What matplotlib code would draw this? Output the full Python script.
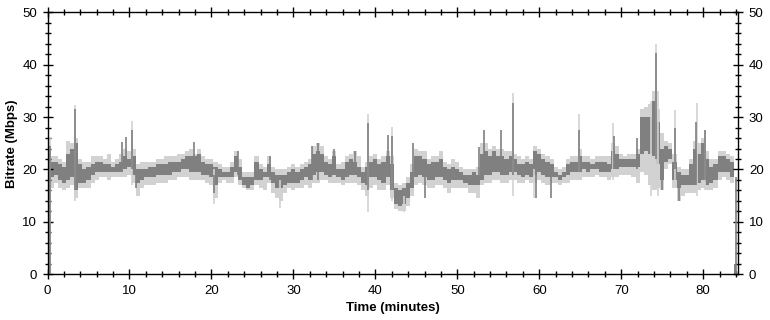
import numpy as np
import matplotlib
matplotlib.use('Agg')
import matplotlib.pyplot as plt
from matplotlib.ticker import MultipleLocator

# === Data (bitrate trace, Mbps vs minutes) ===
# Envelope per 0.5-minute bin: dark band (core) and light band (extremes)
BIN = 0.5
dark_lo = [0, 18.5, 19, 18, 17.5, 18, 18.5, 16, 17.5, 17.5, 18, 19, 19.5, 19.5, 19.5, 19.5,
           19.5, 19.5, 19.5, 20, 20.5, 19, 17.5, 18, 18.5, 18.5, 18.5, 19, 19, 19, 19, 19.5,
           19.5, 20, 20, 19.5, 19.5, 19.5, 19, 19, 18.5, 17, 18.5, 18.5, 18.5, 18.5, 19.5, 18,
           17, 16.5, 17, 18, 18, 18.5, 18.5, 17.5, 16.5, 16.5, 17, 17.5, 17.5, 17.5, 18, 18.5,
           18, 19, 19.5, 19.5, 19, 18.5, 19, 18.5, 18, 18.5, 19, 19, 18.5, 17.5, 17, 18.5,
           18.5, 18, 17.5, 18.5, 16, 13.5, 13, 13.5, 14.5, 16.5, 18.5, 19, 18.5, 18, 18, 18.5,
           18.5, 18, 17.5, 18, 18, 18, 17.5, 17, 17, 17, 18, 19, 19, 19.5, 19.5, 19,
           19, 19.5, 19.5, 19, 18.5, 19, 18.5, 19, 19.5, 19, 18.5, 18.5, 18.5, 18, 18.5, 19,
           19.5, 19.5, 19.5, 20, 19.5, 20, 20, 19.5, 19.5, 19.5, 20, 20, 20.5, 20.5, 20.5, 20.5,
           20.5, 23, 23.5, 23, 22.5, 21, 18, 21.5, 22, 18, 16.5, 17, 17, 17, 17, 17.5,
           18, 17, 17.5, 18, 19.5, 19.5, 19.5, 18.5, 0]
dark_hi = [2, 21.5, 21.5, 21, 20.5, 23, 24, 25, 21, 20, 20.5, 21, 21.5, 21.5, 21, 21,
           20.5, 21, 21.5, 22.5, 22, 22.5, 20, 20, 20, 20.5, 20.5, 21, 21, 21, 21.5, 21.5,
           21.5, 22, 22.5, 22.5, 22.5, 23, 21.5, 21, 21, 20.5, 20, 19.5, 19.5, 20.5, 22.5, 20.5,
           18.5, 18.5, 18.5, 21.5, 20, 19.5, 21, 19.5, 19, 19, 19, 19.5, 20, 19.5, 20, 20.5,
           21, 23, 23.5, 23, 21.5, 21, 22.5, 20, 20, 21.5, 22, 21.5, 20.5, 19.5, 20.5, 21.5,
           22, 21, 21.5, 22.5, 21, 16.5, 16, 16.5, 17.5, 19.5, 22.5, 22.5, 22, 21, 21.5, 21.5,
           22, 20.5, 20, 20.5, 20, 19.5, 19, 19, 19.5, 19, 23, 23.5, 22.5, 23.5, 22.5, 22.5,
           22, 22.5, 22, 21, 21, 21.5, 21, 23.5, 23, 22, 21.5, 21, 19.5, 19, 19.5, 21,
           21.5, 21.5, 22.5, 21.5, 21.5, 21, 21.5, 21.5, 21.5, 21, 23.5, 23, 22, 22, 22, 22,
           23, 30, 30, 30, 33, 29, 24, 24.5, 24, 21.5, 19.5, 19, 19, 21, 24, 23,
           25, 22, 20.5, 21, 22.5, 22.5, 22, 21.5, 2]
light_lo = [0, 16.5, 17.5, 16.5, 16, 16.5, 17, 14.5, 16.5, 16.5, 16.5, 17.5, 18, 18.5, 18.5, 18,
            18.5, 18.5, 18.5, 18.5, 19, 17.5, 15, 16.5, 17, 17, 17, 17.5, 17.5, 17.5, 18, 18,
            18.5, 18.5, 18.5, 18, 18, 18, 18, 17.5, 17, 14.5, 17.5, 18, 17.5, 17.5, 18.5, 17,
            16.5, 16, 16, 17, 16.5, 16, 17.5, 15.5, 14.5, 14, 15.5, 16.5, 16, 16.5, 16.5, 17,
            16.5, 17.5, 17.5, 18, 18, 17.5, 17.5, 17.5, 17, 17.5, 17.5, 17.5, 17, 16, 15, 16.5,
            17, 16, 16, 17, 14.5, 12.5, 12, 12, 13, 15, 17, 17.5, 17, 16.5, 16.5, 17,
            17, 16.5, 15.5, 16.5, 16.5, 16.5, 16.5, 15.5, 15.5, 14.5, 17, 17.5, 17.5, 18, 18, 17.5,
            17.5, 18, 18, 17.5, 17.5, 18, 17.5, 17.5, 18, 17.5, 17, 17.5, 17.5, 17, 17.5, 17.5,
            18, 18, 18, 18.5, 18.5, 18.5, 19, 18.5, 18.5, 18, 18.5, 18.5, 19, 19, 19, 18.5,
            17.5, 19.5, 19, 17, 16, 16.5, 16, 20, 21, 16.5, 14, 15, 15.5, 15.5, 15.5, 16,
            16.5, 16, 16, 16.5, 18, 18.5, 18, 17.5, 0]
light_hi = [2.5, 22.5, 22.5, 22, 21.5, 25.5, 25, 26, 22, 21.5, 21.5, 22.5, 22.5, 22.5, 22, 23,
            21.5, 22, 23, 24, 23.5, 24, 21, 21.5, 21.5, 21.5, 21.5, 22, 22, 22.5, 22.5, 22.5,
            23, 23, 23.5, 24, 23, 24, 22.5, 22, 22, 21.5, 21, 20.5, 20.5, 21.5, 23.5, 22,
            19.5, 19.5, 19.5, 22.5, 21, 20.5, 22.5, 20.5, 20, 20, 20, 20.5, 21, 20.5, 21, 21.5,
            22, 24.5, 25, 24.5, 22.5, 22, 23.5, 21, 21.5, 22.5, 23, 23.5, 22.5, 20.5, 21.5, 22.5,
            23, 22, 22.5, 23.5, 22.5, 17.5, 17, 17.5, 18.5, 21, 24, 23.5, 23.5, 22, 22.5, 22.5,
            23.5, 21.5, 21, 22, 21.5, 20.5, 20, 20, 20, 20.5, 25, 25, 24, 24.5, 24, 24,
            23.5, 23.5, 23, 22.5, 22, 22.5, 22, 24.5, 24, 23, 22.5, 22, 20.5, 20, 20.5, 22,
            22.5, 22.5, 24, 22.5, 22.5, 22, 22.5, 22.5, 22.5, 22.5, 25, 24.5, 23, 22.5, 23, 23,
            24, 31.5, 32, 32.5, 35, 31.5, 27, 25.5, 25, 23, 20.5, 20, 20, 22, 25.5, 25,
            26, 23.5, 22, 22, 23.5, 23.5, 23, 22.5, 1.5]

# Narrow excursions: (minute, low, high)
dark_spike_t = [0.3, 3.3, 9.1, 9.6, 10.35, 10.8, 17.9, 20.3, 23.2, 27.1, 32.3, 33.0, 34.9,
                37.5, 39.1, 41.6, 42.0, 44.6, 46.1, 52.7, 53.2, 55.3, 56.8, 59.6, 61.4,
                64.9, 69.1, 71.9, 74.2, 75.0, 76.5, 77.0, 79.1, 80.2, 84.0]
dark_spike_lo = [0, 16, 20, 20, 20, 16.5, 20, 15.5, 19, 18, 18, 18, 19,
                 19, 16, 19, 16, 18, 14.5, 17, 19, 20, 19, 14.5, 14.5,
                 19.5, 20, 20, 22, 16, 20, 14, 17, 18, 0]
dark_spike_hi = [24.5, 31.5, 25.3, 26.2, 27.5, 20, 25.3, 19, 23.5, 22.5, 24.5, 25, 24,
                 23.5, 28.8, 26.6, 26.3, 25, 19, 24.3, 27.5, 27.5, 32.6, 20, 20,
                 27.5, 26.3, 26, 42.3, 22, 28, 19, 29.1, 27.5, 18.5]
light_spike_t = [0.35, 3.3, 10.35, 20.3, 28.4, 39.1, 42.0, 43.5, 56.8, 59.4, 64.9, 69.0,
                 73.6, 74.2, 74.5, 76.5, 79.2, 80.2]
light_spike_lo = [0, 14, 17, 13.5, 12.7, 11.8, 14, 11.8, 15, 14.5, 18, 18,
                  15, 16, 15, 18, 15, 16]
light_spike_hi = [26, 32.3, 29.2, 20, 18, 30.6, 28.2, 15, 34.6, 20, 30.6, 28.8,
                  33, 44, 35, 31.4, 32.6, 27.5]

DARK = '#808080'
LIGHT = '#d2d2d2'


def main():
    plt.rcParams['font.family'] = ['Liberation Sans', 'DejaVu Sans']

    t = np.arange(len(dark_lo)) * BIN

    fig = plt.figure(figsize=(7.7, 3.2), dpi=100)
    ax = fig.add_axes([0.0617, 0.1428, 0.8973, 0.8188])

    # light extremes first, dark core on top
    ax.fill_between(t, light_lo, light_hi, step='mid', color=LIGHT, linewidth=0)
    ax.vlines(light_spike_t, light_spike_lo, light_spike_hi, color=LIGHT, linewidth=1.2)
    ax.fill_between(t, dark_lo, dark_hi, step='mid', color=DARK, linewidth=0)
    ax.vlines(dark_spike_t, dark_spike_lo, dark_spike_hi, color=DARK, linewidth=1.2)

    ax.set_xlim(0, 84.3)
    ax.set_ylim(0, 50)
    ax.xaxis.set_major_locator(MultipleLocator(10))
    ax.xaxis.set_minor_locator(MultipleLocator(2))
    ax.yaxis.set_major_locator(MultipleLocator(10))
    ax.yaxis.set_minor_locator(MultipleLocator(2))

    ax.tick_params(which='both', direction='inout', top=True, right=True,
                   labelright=True, labelsize=9.5, width=1, colors='black')
    ax.tick_params(which='major', length=7, pad=4)
    ax.tick_params(which='minor', length=4)
    for s in ax.spines.values():
        s.set_linewidth(1)

    ax.set_xlabel('Time (minutes)', fontweight='bold', fontsize=9.5, labelpad=4)
    ax.set_ylabel('Bitrate (Mbps)', fontweight='bold', fontsize=9.5, labelpad=3)

    fig.savefig('out.png', dpi=100)
    plt.close(fig)


if __name__ == '__main__':
    main()
